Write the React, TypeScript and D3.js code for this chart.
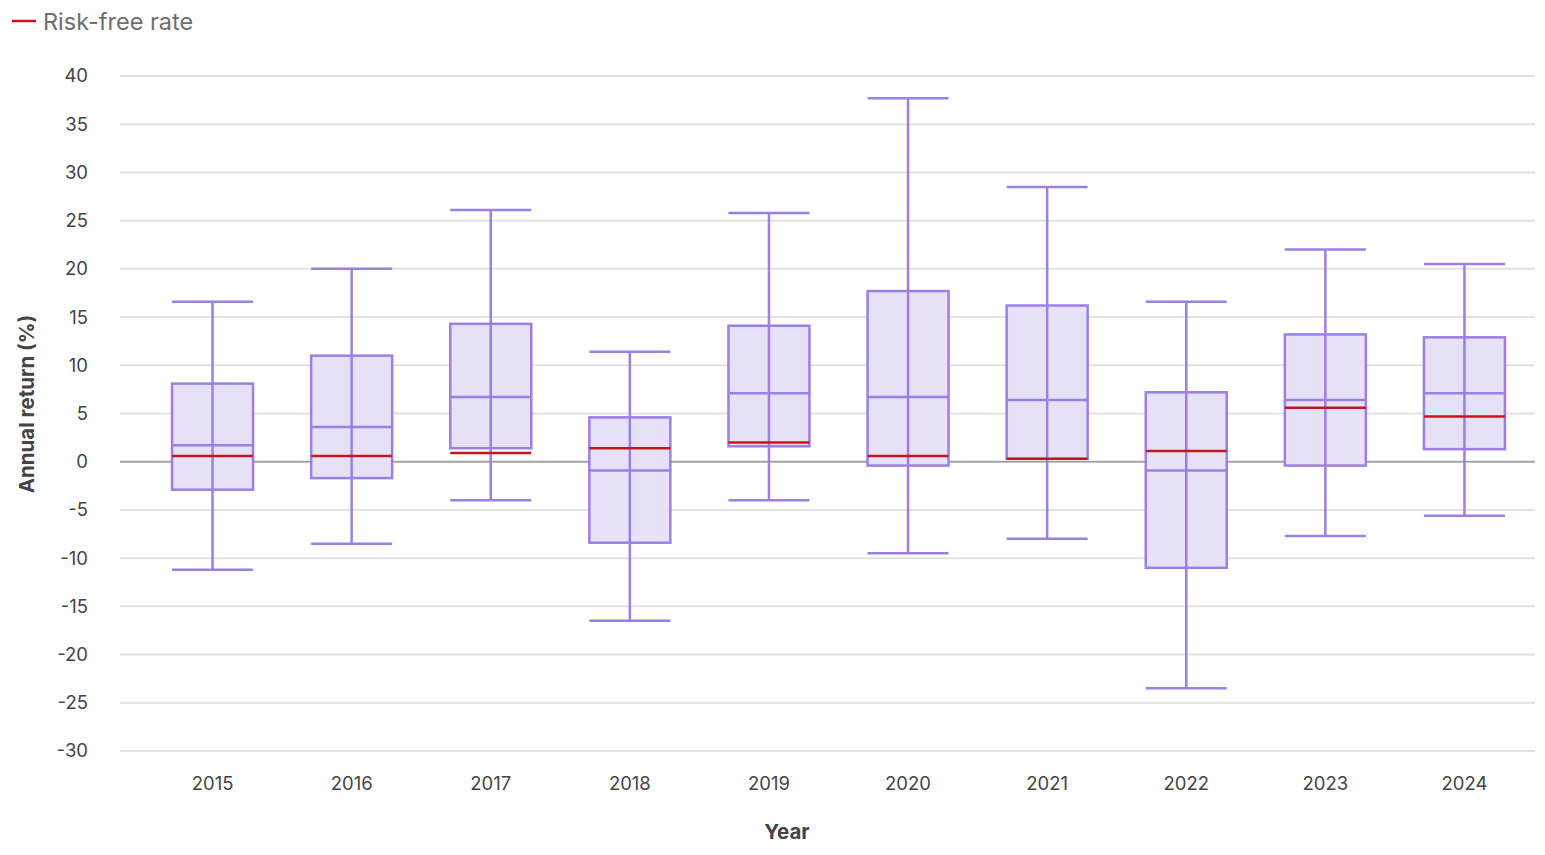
import { useEffect, useRef } from 'react'
import * as d3 from 'd3'

const years = ['2015', '2016', '2017', '2018', '2019', '2020', '2021', '2022', '2023', '2024']
const mins = [-11.2, -8.5, -4.0, -16.5, -4.0, -9.5, -8.0, -23.5, -7.7, -5.6]
const q1s = [-2.9, -1.7, 1.4, -8.4, 1.6, -0.4, 0.3, -11.0, -0.4, 1.3]
const medians = [1.7, 3.6, 6.7, -0.9, 7.1, 6.7, 6.4, -0.9, 6.4, 7.1]
const q3s = [8.1, 11.0, 14.3, 4.6, 14.1, 17.7, 16.2, 7.2, 13.2, 12.9]
const maxs = [16.6, 20.0, 26.1, 11.4, 25.8, 37.7, 28.5, 16.6, 22.0, 20.5]
const riskFree = [0.6, 0.6, 0.9, 1.4, 2.0, 0.6, 0.3, 1.1, 5.6, 4.7]
const yTicks = [-30, -25, -20, -15, -10, -5, 0, 5, 10, 15, 20, 25, 30, 35, 40]

const W = 1545
const H = 855
const FONT = 'Inter, "Noto Sans", sans-serif'

export default function App() {
  const svgRef = useRef<SVGSVGElement>(null)

  useEffect(() => {
    if (!svgRef.current) return
    const svg = d3.select(svgRef.current)
    svg.selectAll('*').remove()

    const x = d3.scaleBand().domain(years).range([143, 1534])
    const y = d3.scaleLinear().domain([-30, 40]).range([751, 76])
    const boxW = 81

    // legend
    const legend = svg.append('g')
    legend.append('line')
      .attr('x1', 12).attr('x2', 36).attr('y1', 21).attr('y2', 21)
      .attr('stroke', '#c4161c').attr('stroke-width', 2.5)
    legend.append('text')
      .attr('x', 43).attr('y', 30)
      .style('font-family', FONT).style('font-size', '23.5px')
      .attr('fill', '#6e6e6e')
      .text('Risk-free rate')

    // grid
    svg.append('g').selectAll('line')
      .data(yTicks)
      .enter().append('line')
      .attr('x1', 120).attr('x2', 1535)
      .attr('y1', d => y(d)).attr('y2', d => y(d))
      .attr('stroke', d => d === 0 ? '#a3a3a3' : '#e2e2e2')
      .attr('stroke-width', 2)

    svg.append('g').selectAll('text')
      .data(yTicks)
      .enter().append('text')
      .attr('x', 88).attr('y', d => y(d))
      .attr('dy', '0.35em')
      .attr('text-anchor', 'end')
      .style('font-family', FONT).style('font-size', '18.5px')
      .attr('fill', '#444')
      .text(d => String(d))

    // x labels
    svg.append('g').selectAll('text')
      .data(years)
      .enter().append('text')
      .attr('x', d => (x(d) ?? 0) + x.bandwidth() / 2)
      .attr('y', 784).attr('dy', '0.35em')
      .attr('text-anchor', 'middle')
      .style('font-family', FONT).style('font-size', '18.5px')
      .attr('fill', '#444')
      .text(d => d)

    svg.append('text')
      .attr('x', 787).attr('y', 832).attr('dy', '0.35em')
      .attr('text-anchor', 'middle')
      .style('font-family', FONT).style('font-size', '20.5px').style('font-weight', '700')
      .attr('fill', '#444')
      .text('Year')

    svg.append('text')
      .attr('transform', `translate(27, 404) rotate(-90)`)
      .attr('dy', '0.35em')
      .attr('text-anchor', 'middle')
      .style('font-family', FONT).style('font-size', '20.5px').style('font-weight', '700')
      .attr('fill', '#444')
      .text('Annual return (%)')

    // boxes
    const stroke = '#9c7fe3'
    const boxes = svg.append('g').selectAll('g')
      .data(years.map((yr, i) => ({ yr, i })))
      .enter().append('g')
      .attr('transform', d => `translate(${(x(d.yr) ?? 0) + x.bandwidth() / 2}, 0)`)

    boxes.append('rect')
      .attr('x', -boxW / 2).attr('width', boxW)
      .attr('y', d => y(q3s[d.i]))
      .attr('height', d => y(q1s[d.i]) - y(q3s[d.i]))
      .attr('fill', '#e6e1f7').attr('stroke', stroke).attr('stroke-width', 2.5)

    boxes.append('line')
      .attr('x1', 0).attr('x2', 0)
      .attr('y1', d => y(maxs[d.i])).attr('y2', d => y(mins[d.i]))
      .attr('stroke', stroke).attr('stroke-width', 2.5)

    boxes.append('line')
      .attr('x1', -boxW / 2).attr('x2', boxW / 2)
      .attr('y1', d => y(maxs[d.i])).attr('y2', d => y(maxs[d.i]))
      .attr('stroke', stroke).attr('stroke-width', 2.5)

    boxes.append('line')
      .attr('x1', -boxW / 2).attr('x2', boxW / 2)
      .attr('y1', d => y(mins[d.i])).attr('y2', d => y(mins[d.i]))
      .attr('stroke', stroke).attr('stroke-width', 2.5)

    boxes.append('line')
      .attr('x1', -boxW / 2).attr('x2', boxW / 2)
      .attr('y1', d => y(medians[d.i])).attr('y2', d => y(medians[d.i]))
      .attr('stroke', stroke).attr('stroke-width', 2.5)

    boxes.append('line')
      .attr('x1', -boxW / 2).attr('x2', boxW / 2)
      .attr('y1', d => y(riskFree[d.i])).attr('y2', d => y(riskFree[d.i]))
      .attr('stroke', '#c4161c').attr('stroke-width', 2.5)
  }, [])

  return <svg ref={svgRef} width={W} height={H} style={{ position: 'absolute', left: 0, top: 0 }} />
}
